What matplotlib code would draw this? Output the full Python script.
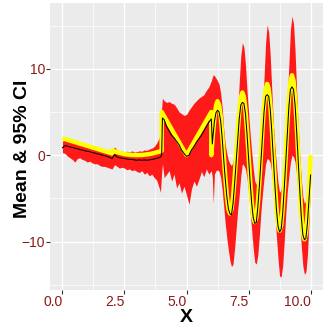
import matplotlib
matplotlib.use('Agg')
import matplotlib.pyplot as plt
from matplotlib.ticker import MultipleLocator, FormatStrFormatter

# colors
panel_grey = '#EBEBEB'
ribbon_red = '#FF1A1A'
truth_yellow = '#FFFF00'
tick_red = '#8B1A1A'
tick_grey = '#333333'

# x positions of the posterior mean / CI band
x_grid = [
    0.0, 0.1, 0.2, 0.3, 0.4, 0.5, 0.6, 0.7, 0.8, 0.9,
    1.0, 1.1, 1.2, 1.3, 1.4, 1.5, 1.6, 1.7, 1.8, 1.9,
    2.0, 2.1, 2.2, 2.3, 2.4, 2.5, 2.6, 2.7, 2.8, 2.9,
    3.0, 3.1, 3.2, 3.3, 3.4, 3.5, 3.6, 3.7, 3.8, 3.9,
    3.95, 4.0, 4.03, 4.1, 4.2, 4.3, 4.4, 4.5, 4.6, 4.7, 4.8, 4.9,
    5.0, 5.1, 5.2, 5.3, 5.4, 5.5, 5.6, 5.7, 5.8, 5.9, 6.0,
    6.04, 6.08, 6.125, 6.1875, 6.25, 6.3125, 6.375, 6.4375,
    6.5, 6.5625, 6.625, 6.6875, 6.75, 6.8125, 6.875, 6.9375,
    7.0, 7.0625, 7.125, 7.1875, 7.25, 7.3125, 7.375, 7.4375,
    7.5, 7.5625, 7.625, 7.6875, 7.75, 7.8125, 7.875, 7.9375,
    8.0, 8.0625, 8.125, 8.1875, 8.25, 8.3125, 8.375, 8.4375,
    8.5, 8.5625, 8.625, 8.6875, 8.75, 8.8125, 8.875, 8.9375,
    9.0, 9.0625, 9.125, 9.1875, 9.25, 9.3125, 9.375, 9.4375,
    9.5, 9.5625, 9.625, 9.6875, 9.75, 9.8125, 9.875, 9.9375,
    10.0,
]

ci_mean = [
    0.85, 1.1, 1.05, 0.95, 0.9, 0.8, 0.75, 0.65, 0.6, 0.5,
    0.45, 0.4, 0.3, 0.25, 0.15, 0.1, 0.0, -0.05, -0.15, -0.25,
    -0.4, 0.05, -0.2, -0.3, -0.35, -0.4, -0.45, -0.5, -0.5, -0.55,
    -0.6, -0.55, -0.6, -0.55, -0.6, -0.55, -0.5, -0.45, -0.35, -0.3,
    -0.2, 0.0, 4.3, 4.1, 3.3, 2.8, 2.3, 2.0, 1.6, 1.2, 0.6, 0.2,
    -0.15, 0.0, 0.6, 1.0, 1.5, 1.9, 2.3, 2.8, 3.3, 3.8, 4.2,
    1.3, 2.6, 3.9, 4.9, 5.2, 5.0, 4.0, 2.0,
    -0.5, -2.8, -4.8, -6.2, -6.8, -6.9, -5.6, -3.3,
    -0.8, 1.8, 4.2, 5.8, 6.1, 6.0, 4.8, 2.5,
    -0.3, -3.0, -5.5, -7.2, -7.9, -7.8, -6.0, -3.5,
    -0.6, 2.3, 5.0, 6.8, 7.0, 6.8, 5.3, 2.7,
    -0.4, -3.5, -6.3, -8.2, -8.9, -8.6, -6.8, -3.9,
    -0.7, 2.7, 5.6, 7.6, 7.9, 7.6, 5.8, 2.8,
    -0.6, -4.0, -7.1, -9.2, -9.8, -9.6, -7.8, -5.0,
    -2.3,
]

ci_high = [
    1.6, 1.8, 1.7, 1.65, 1.6, 1.55, 1.5, 1.4, 1.3, 1.25,
    1.15, 1.1, 1.0, 0.95, 0.85, 0.8, 0.7, 0.65, 0.55, 0.5,
    0.4, 0.95, 0.6, 0.5, 0.45, 0.4, 0.45, 0.35, 0.5, 0.35,
    0.4, 0.5, 0.45, 0.6, 0.55, 0.7, 0.8, 1.0, 1.4, 2.0,
    3.0, 5.5, 6.6, 6.3, 6.1, 6.2, 6.0, 5.9, 5.5, 5.0, 4.8, 4.6,
    4.7, 5.2, 5.6, 6.0, 6.3, 6.6, 6.8, 7.0, 7.5, 7.9, 8.6,
    9.0, 9.3, 9.2, 8.9, 8.6, 8.2, 7.2, 5.5,
    3.0, 1.2, 0.2, -0.6, -1.0, -1.2, -0.8, 0.3,
    1.7, 4.5, 8.5, 11.5, 13.0, 12.5, 10.5, 7.5,
    5.0, 2.5, 0.4, -1.5, -3.0, -3.4, -2.8, -1.2,
    0.8, 4.5, 9.0, 13.0, 15.1, 14.2, 11.5, 7.5,
    3.7, 1.0, -1.2, -3.2, -4.3, -4.0, -2.6, -0.5,
    2.5, 6.5, 10.5, 14.5, 16.1, 15.2, 12.0, 7.5,
    3.3, 0.0, -2.8, -4.8, -5.6, -5.2, -3.8, -2.2,
    -1.4,
]

ci_low = [
    0.3, 0.2, -0.1, -0.3, -0.5, -0.8, -0.4, -0.3, -0.5, -0.6,
    -0.8, -0.7, -0.9, -1.0, -1.0, -1.2, -1.3, -1.3, -1.4, -1.5,
    -1.6, -1.1, -1.3, -1.5, -1.4, -1.5, -1.7, -1.6, -1.8, -1.7,
    -1.9, -2.0, -1.8, -2.2, -2.0, -2.4, -2.2, -2.6, -2.9, -3.8,
    -4.3, -2.0, -1.0, -2.6, -2.2, -1.8, -3.0, -2.2, -3.8, -3.2, -4.4, -3.6,
    -4.6, -5.7, -3.9, -3.0, -3.6, -2.8, -1.9, -2.5, -1.6, -2.2, -1.8,
    -2.6, -5.6, -2.2, -1.8, -1.7, -1.9, -2.6, -4.0,
    -6.0, -8.0, -9.6, -11.0, -12.2, -12.9, -12.6, -10.8,
    -8.6, -6.4, -4.6, -2.4, -1.0, -1.2, -1.6, -2.6,
    -4.2, -6.4, -8.6, -10.8, -12.4, -12.6, -11.5, -9.2,
    -6.5, -4.4, -2.6, -1.0, -0.4, -0.5, -0.9, -2.0,
    -4.0, -6.8, -9.5, -12.0, -14.0, -14.1, -12.8, -10.0,
    -6.8, -4.2, -2.4, -0.8, 0.0, -0.2, -0.8, -2.2,
    -4.5, -7.5, -10.5, -12.8, -13.8, -13.5, -11.5, -7.5,
    -3.3,
]

# true function (yellow)
true_x = [
    0.0, 2.0, 2.0, 2.25, 2.5, 2.75, 3.0, 3.25, 3.5, 3.75, 4.0, 4.0, 5.0, 6.0, 6.0,
    6.0625, 6.125, 6.1875, 6.25, 6.3125, 6.375, 6.4375,
    6.5, 6.5625, 6.625, 6.6875, 6.75, 6.8125, 6.875, 6.9375,
    7.0, 7.0625, 7.125, 7.1875, 7.25, 7.3125, 7.375, 7.4375,
    7.5, 7.5625, 7.625, 7.6875, 7.75, 7.8125, 7.875, 7.9375,
    8.0, 8.0625, 8.125, 8.1875, 8.25, 8.3125, 8.375, 8.4375,
    8.5, 8.5625, 8.625, 8.6875, 8.75, 8.8125, 8.875, 8.9375,
    9.0, 9.0625, 9.125, 9.1875, 9.25, 9.3125, 9.375, 9.4375,
    9.5, 9.5625, 9.625, 9.6875, 9.75, 9.8125, 9.875, 9.9375,
    10.0,
]
true_y = [
    1.95, 0.2, 0.55, 0.3, 0.12, 0.03, 0.0, 0.03, 0.12, 0.28, 0.5, 5.0, 0.0, 5.0, 0.0,
    2.32, 4.33, 5.72, 6.25, 5.83, 4.51, 2.46,
    0.0, -2.51, -4.68, -6.18, -6.75, -6.29, -4.86, -2.65,
    0.0, 2.70, 5.04, 6.64, 7.25, 6.76, 5.21, 2.85,
    0.0, -2.89, -5.39, -7.10, -7.75, -7.22, -5.57, -3.04,
    0.0, 3.09, 5.75, 7.56, 8.25, 7.68, 5.92, 3.23,
    0.0, -3.28, -6.10, -8.03, -8.75, -8.14, -6.28, -3.42,
    0.0, 3.47, 6.45, 8.49, 9.25, 8.60, 6.63, 3.61,
    0.0, -3.66, -6.81, -8.95, -9.75, -9.07, -6.98, -3.80,
    0.0,
]

assert len(x_grid) == len(ci_mean) == len(ci_high) == len(ci_low)
assert len(true_x) == len(true_y)

plt.rcParams['font.family'] = ['Liberation Sans', 'DejaVu Sans']

fig = plt.figure(figsize=(3.27, 3.27), dpi=100)
ax = fig.add_axes([50 / 327, 37 / 327, 273 / 327, 287 / 327])
ax.set_facecolor(panel_grey)
for spine in ax.spines.values():
    spine.set_visible(False)

# band, truth, then mean on top
ax.fill_between(x_grid, ci_low, ci_high, color=ribbon_red, linewidth=0, zorder=2)
ax.plot(true_x, true_y, color=truth_yellow, lw=3.2,
        solid_capstyle='butt', solid_joinstyle='round', zorder=3)
ax.plot(x_grid, ci_mean, color='black', lw=0.75, zorder=4)

ax.xaxis.set_major_locator(MultipleLocator(2.5))
ax.xaxis.set_minor_locator(MultipleLocator(1.25))
ax.xaxis.set_major_formatter(FormatStrFormatter('%.1f'))
ax.yaxis.set_major_locator(MultipleLocator(10))
ax.yaxis.set_minor_locator(MultipleLocator(5))

ax.grid(which='major', color='white', lw=1.0)
ax.grid(which='minor', color='white', lw=0.5)
ax.set_axisbelow(True)

ax.tick_params(which='major', length=2.8, width=0.8, color=tick_grey,
               labelsize=10, labelcolor=tick_red, pad=0.6)
ax.tick_params(which='minor', length=0)
# x labels sit to the left of their tick (right-justified)
for lab in ax.get_xticklabels():
    lab.set_ha('right')

ax.set_xlabel('X', fontsize=14, fontweight='bold')
ax.xaxis.label.set_va('baseline')
ax.xaxis.set_label_coords(0.5, -0.1115)
ax.set_ylabel('Mean & 95% CI', fontsize=14, fontweight='bold')
ax.yaxis.label.set_va('baseline')
ax.yaxis.set_label_coords(-0.084, 0.493)

fig.savefig('out.png', dpi=100)
